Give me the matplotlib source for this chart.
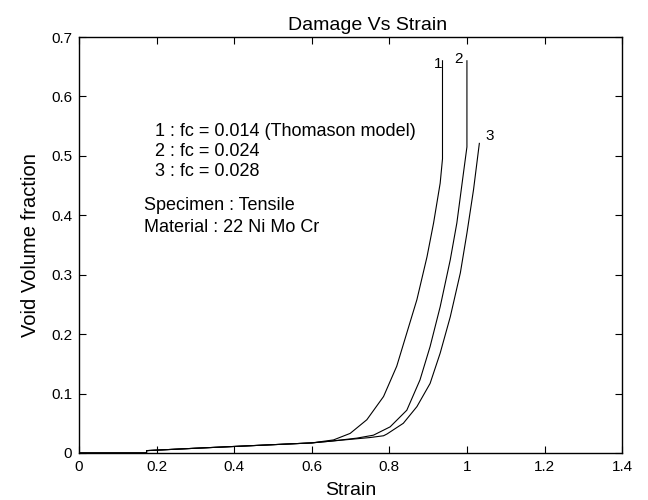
import matplotlib
matplotlib.use("Agg")
import matplotlib.pyplot as plt

plt.rcParams['font.family'] = ['Liberation Sans', 'DejaVu Sans']

# shared low-strain baseline
base_x = [0.0, 0.174, 0.174, 0.30, 0.40, 0.50, 0.60]
base_y = [0.0, 0.0, 0.004, 0.008, 0.011, 0.014, 0.017]

c1_x = base_x + [0.656, 0.699, 0.742, 0.785, 0.819, 0.845, 0.871, 0.897, 0.914, 0.931, 0.937, 0.937]
c1_y = base_y + [0.022, 0.033, 0.056, 0.095, 0.146, 0.202, 0.258, 0.330, 0.387, 0.454, 0.495, 0.66]

c2_x = base_x + [0.65, 0.716, 0.759, 0.802, 0.845, 0.879, 0.905, 0.931, 0.957, 0.974, 0.991, 1.0, 1.0]
c2_y = base_y + [0.020, 0.025, 0.030, 0.044, 0.072, 0.123, 0.179, 0.246, 0.325, 0.387, 0.471, 0.515, 0.66]

c3_x = base_x + [0.65, 0.70, 0.75, 0.785, 0.794, 0.836, 0.871, 0.905, 0.931, 0.957, 0.983, 1.0, 1.017, 1.032]
c3_y = base_y + [0.020, 0.023, 0.026, 0.029, 0.032, 0.050, 0.078, 0.117, 0.168, 0.229, 0.303, 0.370, 0.443, 0.521]

curve_labels = ["1", "2", "3"]
label_pos = [(0.925, 0.655), (0.979, 0.663), (1.058, 0.534)]

fc_lines = ["1 : fc = 0.014 (Thomason model)", "2 : fc = 0.024", "3 : fc = 0.028"]
fc_y = [0.541, 0.508, 0.474]
info_lines = ["Specimen : Tensile", "Material : 22 Ni Mo Cr"]
info_y = [0.416, 0.379]

fig = plt.figure(figsize=(6.48, 5.0), dpi=100)
ax = fig.add_axes([0.122, 0.094, 0.838, 0.832])

for xs, ys in [(c1_x, c1_y), (c2_x, c2_y), (c3_x, c3_y)]:
    ax.plot(xs, ys, color='black', linewidth=0.8)

for lab, (lx, ly) in zip(curve_labels, label_pos):
    ax.text(lx, ly, lab, fontsize=11, ha='center', va='center')

for t, yy in zip(fc_lines, fc_y):
    ax.text(0.196, yy, t, fontsize=13, ha='left', va='center')
for t, yy in zip(info_lines, info_y):
    ax.text(0.167, yy, t, fontsize=13, ha='left', va='center')

ax.set_xlim(0, 1.4)
ax.set_ylim(0, 0.7)
ax.set_xticks([0, 0.2, 0.4, 0.6, 0.8, 1.0, 1.2, 1.4])
ax.set_xticklabels(["0", "0.2", "0.4", "0.6", "0.8", "1", "1.2", "1.4"])
ax.set_yticks([0, 0.1, 0.2, 0.3, 0.4, 0.5, 0.6, 0.7])
ax.set_yticklabels(["0", "0.1", "0.2", "0.3", "0.4", "0.5", "0.6", "0.7"])
ax.tick_params(direction='in', top=True, right=True, length=5, width=0.8,
               labelsize=11, pad=5)
for s in ax.spines.values():
    s.set_linewidth(1.0)

ax.set_xlabel("Strain", fontsize=14, labelpad=5.5)
ax.set_ylabel("Void Volume fraction", fontsize=14.5, labelpad=8)
ax.set_title("Damage Vs Strain", fontsize=14, pad=5, x=0.531)

fig.savefig("out.png", dpi=100)
